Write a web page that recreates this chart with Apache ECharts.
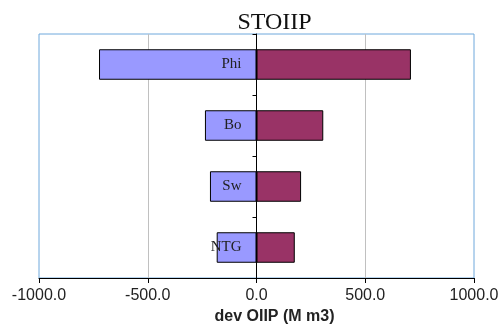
<!DOCTYPE html>
<html>
<head>
<meta charset="utf-8">
<script src="https://cdn.jsdelivr.net/npm/echarts@6/dist/echarts.min.js"></script>
<style>html,body{margin:0;padding:0;background:#fff}#c{width:502px;height:333px}</style>
</head>
<body>
<div id="c"></div>
<script>
const categories = ['Phi', 'Bo', 'Sw', 'NTG'];
const lowValues = [-724, -237, -214, -183];
const highValues = [710, 307, 205, 176];
const xTicks = [-1000, -500, 0, 500, 1000];

const chart = echarts.init(document.getElementById('c'), null, {renderer: 'canvas'});
chart.setOption({
  animation: false,
  backgroundColor: '#fff',
  title: {
    text: 'STOIIP',
    left: 269.5, top: 6, textAlign: 'center',
    textStyle: {fontFamily: 'Liberation Serif', fontSize: 24, fontWeight: 'normal', color: '#111'}
  },
  grid: {left: 39, right: 28, top: 34, bottom: 55, show: true, borderColor: '#6fa8dc', borderWidth: 1,
    containLabel: false, outerBoundsMode: 'none'},
  xAxis: {
    type: 'value', min: xTicks[0], max: xTicks[xTicks.length - 1], interval: 500,
    name: 'dev OIIP (M m3)', nameLocation: 'middle', nameGap: 30,
    nameTextStyle: {fontFamily: 'Liberation Sans', fontSize: 16, fontWeight: 'bold', color: '#222', padding: [0, 0, 0, 36]},
    axisLine: {show: true, onZero: false, lineStyle: {color: '#000', width: 1}},
    axisTick: {show: true, length: 5, lineStyle: {color: '#000'}},
    axisLabel: {margin: 10, fontFamily: 'Liberation Sans', fontSize: 16, color: '#222',
      formatter: v => v.toFixed(1)},
    splitLine: {show: true, showMinLine: false, showMaxLine: false, lineStyle: {color: '#c0c0c0', width: 1}}
  },
  yAxis: {
    type: 'category', data: categories, inverse: true, z: 5,
    axisLine: {show: true, onZero: true, lineStyle: {color: '#000', width: 1}},
    axisTick: {show: true, length: 4, lineStyle: {color: '#000'}},
    axisLabel: {show: false}
  },
  series: [
    {type: 'bar', data: lowValues, barWidth: '50%', barGap: '-100%',
      itemStyle: {color: '#9999ff', borderColor: '#000', borderWidth: 1},
      label: {show: true, position: 'insideRight', distance: 15, formatter: '{b}',
        fontFamily: 'Liberation Serif', fontSize: 15, color: '#222'}},
    {type: 'bar', data: highValues, barWidth: '50%', barGap: '-100%',
      itemStyle: {color: '#993366', borderColor: '#000', borderWidth: 1}}
  ]
});
</script>
</body>
</html>
